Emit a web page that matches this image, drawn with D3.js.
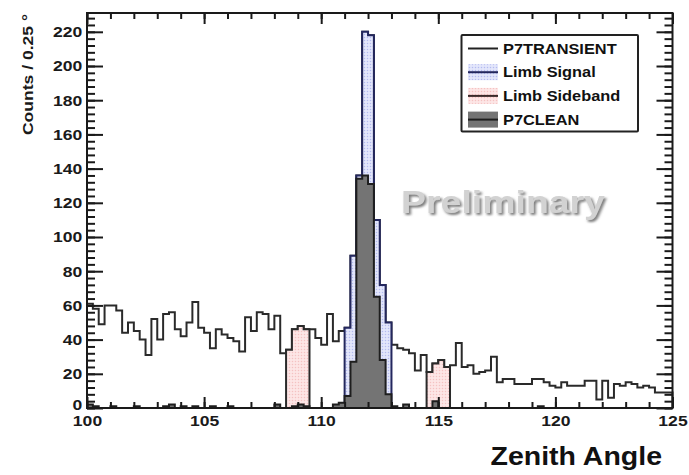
<!DOCTYPE html>
<html>
<head>
<meta charset="utf-8">
<script src="https://cdn.jsdelivr.net/npm/d3@7"></script>
<style>
  html, body { margin: 0; padding: 0; background: #fff; }
  svg { display: block; font-family: "Liberation Sans", Arial, Helvetica, sans-serif; }
</style>
</head>
<body>
<svg id="chart" width="689" height="475"></svg>
<script>
// Zenith angle histogram, 0.25 degree bins from 100 to 125 degrees
const binStart = 100;
const binWidth = 0.25;

// P7TRANSIENT counts per bin
const transient = [
  61, 58, 49, 60, 60, 57, 44, 50, 45, 40,
  31, 52, 40, 55, 56, 46, 42, 50, 62, 47,
  44, 35, 46, 43, 41, 39, 33, 53, 45, 56,
  55, 46, 54, 32, 34, 46, 48, 46, 46, 41,
  37, 55, 39, 45, 47, 89, 136, 220, 218, 110,
  72, 50, 37, 35, 34, 32, 22, 31, 21, 26,
  28, 24, 25, 38, 24, 25, 20, 21, 22, 30,
  15, 17, 17, 14, 14, 14, 17, 17, 15, 13,
  12, 15, 13, 13, 13, 16, 16, 5, 16, 6,
  14, 13, 15, 14, 12, 13, 12, 9, 9, 9
];

// P7CLEAN counts per bin
const clean = [
  2, 1, 0, 0, 1, 0, 0, 0, 1, 0,
  0, 0, 0, 1, 2, 0, 1, 0, 1, 0,
  0, 1, 0, 0, 1, 0, 0, 0, 0, 0,
  0, 0, 2, 0, 0, 1, 2, 1, 0, 0,
  0, 0, 2, 3, 7, 27, 134, 136, 131, 65,
  28, 8, 1, 0, 2, 0, 0, 0, 0, 4,
  0, 0, 0, 0, 0, 0, 0, 0, 0, 0,
  0, 0, 0, 0, 0, 0, 0, 1, 0, 0,
  0, 0, 0, 0, 0, 0, 0, 0, 0, 0,
  0, 0, 0, 0, 0, 0, 0, 0, 0, 0
];

// Bin index ranges (inclusive) of the limb signal and sideband windows
const signalRange = [44, 51];
const sidebandRanges = [[34, 37], [58, 61]];

const xMajorTicks = [100, 105, 110, 115, 120, 125];
const xMinorTicks = d3.range(100, 126, 1);
const yMajorTicks = [0, 20, 40, 60, 80, 100, 120, 140, 160, 180, 200, 220];
const yMinorTicks = d3.range(0, 231, 4);
const yMax = 231;

const legendLabels = ["P7TRANSIENT", "Limb Signal", "Limb Sideband", "P7CLEAN"];
const xTitle = "Zenith Angle";
const yTitle = "Counts / 0.25 \u00B0";
const watermark = "Preliminary";

// Layout
const frame = { left: 87, right: 672.5, top: 13, bottom: 408 };
const textStretch = 1.17;

const svg = d3.select("#chart");

const x = d3.scaleLinear().domain([100, 125]).range([frame.left, frame.right]);
const y = d3.scaleLinear().domain([0, yMax]).range([frame.bottom, frame.top]);

// Fill patterns for the limb windows
const defs = svg.append("defs");
function dotPattern(id, base, dot) {
  const p = defs.append("pattern").attr("id", id)
    .attr("width", 3).attr("height", 3).attr("patternUnits", "userSpaceOnUse");
  p.append("rect").attr("width", 3).attr("height", 3).attr("fill", base);
  p.append("circle").attr("cx", 1.5).attr("cy", 1.5).attr("r", 0.75).attr("fill", dot);
}
dotPattern("blueDots", "#e3e6fb", "#b4bbf0");
dotPattern("pinkDots", "#fde6e6", "#f5c2c2");

// Embossed look for the watermark: blurred dark offset copy under the text
const emboss = defs.append("filter").attr("id", "emboss")
  .attr("x", "-10%").attr("y", "-20%").attr("width", "125%").attr("height", "150%");
emboss.append("feGaussianBlur").attr("in", "SourceAlpha").attr("stdDeviation", 1.2).attr("result", "blur");
emboss.append("feOffset").attr("in", "blur").attr("dx", 1.5).attr("dy", 1.5).attr("result", "off");
emboss.append("feFlood").attr("flood-color", "#7a7a7a").attr("result", "col");
emboss.append("feComposite").attr("in", "col").attr("in2", "off").attr("operator", "in").attr("result", "shadow");
const merge = emboss.append("feMerge");
merge.append("feMergeNode").attr("in", "shadow");
merge.append("feMergeNode").attr("in", "SourceGraphic");

// Step outline of a histogram over a bin range
const line = d3.line().x(d => x(d[0])).y(d => y(d[1]));
function stepPoints(values, from, to) {
  const pts = [[binStart + from * binWidth, 0]];
  for (let i = from; i <= to; i++) {
    const lo = binStart + i * binWidth, hi = lo + binWidth;
    pts.push([lo, values[i]], [hi, values[i]]);
  }
  pts.push([binStart + (to + 1) * binWidth, 0]);
  return pts;
}

const plot = svg.append("g");

// Preliminary watermark
svg.append("g").attr("transform", `translate(503,213) scale(${textStretch},1)`)
  .append("text").attr("text-anchor", "middle")
  .attr("font-size", 32).attr("font-weight", "bold").attr("fill", "#d2d2d2")
  .attr("filter", "url(#emboss)").text(watermark);

// P7TRANSIENT outline
plot.append("path")
  .attr("d", line(stepPoints(transient, 0, transient.length - 1)))
  .attr("fill", "none").attr("stroke", "#2a2a2a").attr("stroke-width", 2)
  .attr("stroke-linejoin", "miter");

// Limb sideband
sidebandRanges.forEach(r => {
  plot.append("path")
    .attr("d", line(stepPoints(transient, r[0], r[1])))
    .attr("fill", "url(#pinkDots)").attr("stroke", "#2a2a2a").attr("stroke-width", 2);
});

// Limb signal
plot.append("path")
  .attr("d", line(stepPoints(transient, signalRange[0], signalRange[1])))
  .attr("fill", "url(#blueDots)").attr("stroke", "#23275e").attr("stroke-width", 2);

// P7CLEAN
plot.append("path")
  .attr("d", line(stepPoints(clean, 0, clean.length - 1)))
  .attr("fill", "#747474").attr("stroke", "#1e1e1e").attr("stroke-width", 2);

// Axes with inward ticks, ROOT style
function styleAxis(g, showLabels, size) {
  g.select(".domain").remove();
  g.selectAll(".tick line").attr("stroke", "#1a1a1a").attr("stroke-width", 2);
  if (!showLabels) g.selectAll("text").remove();
  g.selectAll("text")
    .attr("font-family", "'Liberation Sans', Arial, Helvetica, sans-serif")
    .attr("font-weight", "bold").attr("font-size", size || 15).attr("fill", "#1a1a1a");
}

// Left axis
const yMinorL = svg.append("g").attr("transform", `translate(${frame.left},0)`)
  .call(d3.axisLeft(y).tickValues(yMinorTicks).tickSizeInner(-8).tickSizeOuter(0).tickFormat(""));
styleAxis(yMinorL, false);
const yMajorL = svg.append("g").attr("transform", `translate(${frame.left},0)`)
  .call(d3.axisLeft(y).tickValues(yMajorTicks).tickSizeInner(-16).tickSizeOuter(0).tickPadding(4));
styleAxis(yMajorL, true, 15);
yMajorL.selectAll("text").attr("transform", `scale(${textStretch},1)`);
// the zero label sits just above the corner, clear of the "100" below it
yMajorL.selectAll(".tick").filter(d => d === 0).select("text").attr("dy", "0.1em");

// Right axis
const yMinorR = svg.append("g").attr("transform", `translate(${frame.right},0)`)
  .call(d3.axisRight(y).tickValues(yMinorTicks).tickSizeInner(-8).tickSizeOuter(0).tickFormat(""));
styleAxis(yMinorR, false);
const yMajorR = svg.append("g").attr("transform", `translate(${frame.right},0)`)
  .call(d3.axisRight(y).tickValues(yMajorTicks).tickSizeInner(-16).tickSizeOuter(0).tickFormat(""));
styleAxis(yMajorR, false);

// Bottom axis
const xMinorB = svg.append("g").attr("transform", `translate(0,${frame.bottom})`)
  .call(d3.axisBottom(x).tickValues(xMinorTicks).tickSizeInner(-6).tickSizeOuter(0).tickFormat(""));
styleAxis(xMinorB, false);
const xMajorB = svg.append("g").attr("transform", `translate(0,${frame.bottom})`)
  .call(d3.axisBottom(x).tickValues(xMajorTicks).tickSizeInner(-11).tickSizeOuter(0).tickPadding(7));
styleAxis(xMajorB, true, 15);
xMajorB.selectAll("text").attr("transform", `scale(${textStretch},1)`);

// Top axis
const xMinorT = svg.append("g").attr("transform", `translate(0,${frame.top})`)
  .call(d3.axisTop(x).tickValues(xMinorTicks).tickSizeInner(-6).tickSizeOuter(0).tickFormat(""));
styleAxis(xMinorT, false);
const xMajorT = svg.append("g").attr("transform", `translate(0,${frame.top})`)
  .call(d3.axisTop(x).tickValues(xMajorTicks).tickSizeInner(-11).tickSizeOuter(0).tickFormat(""));
styleAxis(xMajorT, false);

// Frame
svg.append("rect")
  .attr("x", frame.left).attr("y", frame.top)
  .attr("width", frame.right - frame.left).attr("height", frame.bottom - frame.top)
  .attr("fill", "none").attr("stroke", "#1a1a1a").attr("stroke-width", 2);

// Axis titles
svg.append("g").attr("transform", `translate(662,465) scale(1.14,1)`)
  .append("text").attr("text-anchor", "end")
  .attr("font-size", 25).attr("font-weight", "bold").attr("fill", "#111")
  .text(xTitle);

svg.append("g").attr("transform", `translate(33,14) rotate(-90) scale(${textStretch},1)`)
  .append("text").attr("text-anchor", "end")
  .attr("font-size", 15).attr("font-weight", "bold").attr("fill", "#1a1a1a")
  .text(yTitle);

// Legend
const legend = svg.append("g");
legend.append("rect")
  .attr("x", 461.5).attr("y", 35).attr("width", 176.5).attr("height", 96.5)
  .attr("fill", "#fff").attr("stroke", "#222").attr("stroke-width", 2).attr("rx", 1);

const legendStyles = [
  { fill: null, stroke: "#222" },
  { fill: "url(#blueDots)", stroke: "#23275e" },
  { fill: "url(#pinkDots)", stroke: "#3a2a2a" },
  { fill: "#747474", stroke: "#1e1e1e" }
];
legendLabels.forEach((label, i) => {
  const cy = 48.5 + i * 23.7;
  const st = legendStyles[i];
  if (st.fill) {
    legend.append("rect").attr("x", 468).attr("y", cy - 8).attr("width", 30).attr("height", 16)
      .attr("fill", st.fill);
  }
  legend.append("line").attr("x1", 468).attr("x2", 498).attr("y1", cy).attr("y2", cy)
    .attr("stroke", st.stroke).attr("stroke-width", 2);
  legend.append("g").attr("transform", `translate(503,${cy + 5}) scale(${textStretch},1)`)
    .append("text").attr("font-size", 14).attr("font-weight", "bold").attr("fill", "#111")
    .text(label);
});
</script>
</body>
</html>
